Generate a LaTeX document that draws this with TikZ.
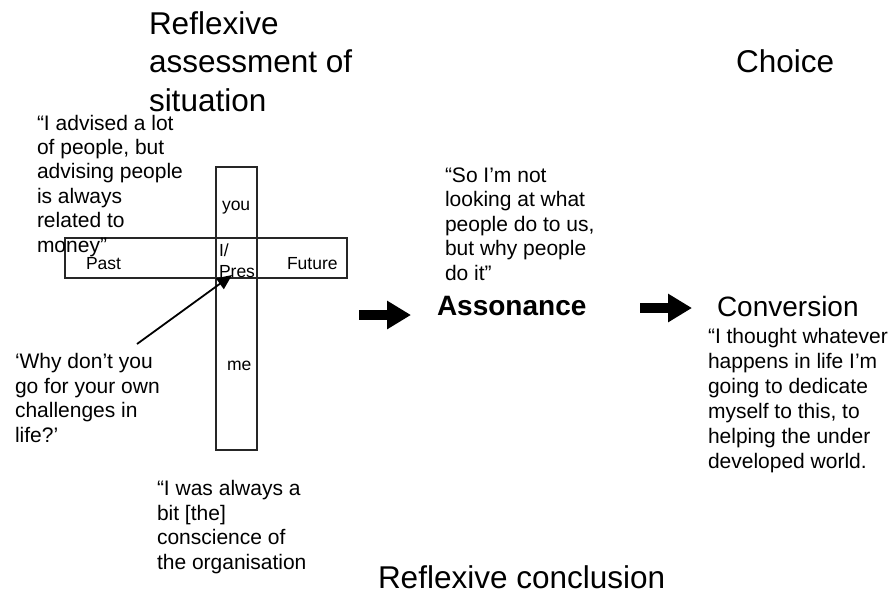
\documentclass[tikz,border=0pt]{standalone}
\usepackage{fontspec}
\setmainfont{Liberation Sans}
\usetikzlibrary{arrows.meta}
\begin{document}
\begin{tikzpicture}[x=1pt,y=-1pt,
  every node/.style={inner sep=0pt, outer sep=0pt, anchor=base west},
  heading/.style={font=\fontsize{31.5}{38.5}\selectfont, align=left},
  quote/.style={font=\fontsize{21}{24.4}\selectfont, align=left},
  cell/.style={font=\fontsize{17.5}{21}\selectfont, align=left},
  stage/.style={font=\fontsize{28}{32}\selectfont},
  frame/.style={draw=black!85, line width=1.1pt, anchor=north west},
  pointer/.style={draw=black, line width=1.8pt, -{Triangle[length=15pt,width=13pt]}},
  blockarrow/.style={draw=black, line width=10pt, -{Triangle[length=24pt,width=27pt]}}
]
\useasboundingbox (0,0) rectangle (896,595);

% headings (multi-line nodes sit on the baseline of their last line)
\node[heading] (assess) at (149,111) {Reflexive\\assessment of\\situation};
\node[heading] (choice) at (736,72) {Choice};
\node[heading] (conclusion) at (378,588) {Reflexive conclusion};

% the time line and the self bar
\node[frame, minimum width=282pt, minimum height=40pt] (timeline) at (65,238) {};
\node[frame, minimum width=41pt, minimum height=283pt] (selfbar) at (216,167) {};

\node[cell] (you) at (222,210) {you};
\node[cell] (me) at (227,370) {me};
\node[cell] (past) at (86,269) {Past};
\node[cell] (future) at (287,269) {Future};
\node[cell] (pres) at (219,277) {I/\\Pres};

% quotes
\node[quote] (advised) at (37,252) {“I advised a lot\\of people, but\\advising people\\is always\\related to\\money”};
\node[quote] (why) at (15,442) {‘Why don’t you\\go for your own\\challenges in\\life?’};
\node[quote] (conscience) at (157,569) {“I was always a\\bit [the]\\conscience of\\the organisation};
\node[quote] (looking) at (445,280) {“So I’m not\\looking at what\\people do to us,\\but why people\\do it”};
\node[quote, font=\fontsize{21}{25}\selectfont] (whatever) at (708,468) {“I thought whatever\\happens in life I’m\\going to dedicate\\myself to this, to\\helping the under\\developed world.};

% stages
\node[stage, font=\fontsize{28}{32}\selectfont\bfseries] (assonance) at (437,315) {Assonance};
\node[stage] (conversion) at (717,316) {Conversion};

% connectors
\coordinate (whyend) at (137,344);
\coordinate (prestip) at (232,275);
\draw[pointer] (whyend) -- (prestip);

\coordinate (a1) at (359,315);
\coordinate (a1tip) at (411,315);
\draw[blockarrow] (a1) -- (a1tip);
\coordinate (a2) at (640,308);
\coordinate (a2tip) at (692,308);
\draw[blockarrow] (a2) -- (a2tip);
\end{tikzpicture}
\end{document}
